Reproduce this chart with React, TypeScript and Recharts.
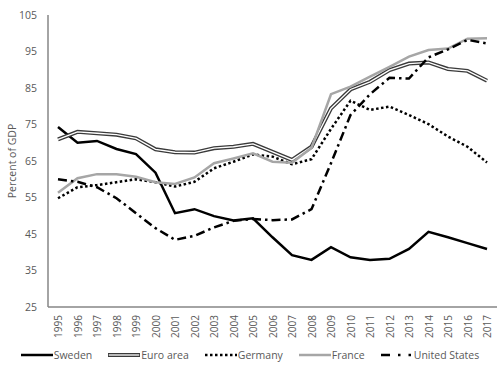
import React from "react";
import { LineChart, Line, XAxis, YAxis, Legend } from "recharts";

const years = ["1995","1996","1997","1998","1999","2000","2001","2002","2003","2004","2005","2006","2007","2008","2009","2010","2011","2012","2013","2014","2015","2016","2017"];
const sweden = [74.3,70.0,70.5,68.3,66.9,61.8,50.7,51.8,49.9,48.7,49.3,44.1,39.2,37.9,41.4,38.6,37.9,38.2,40.9,45.6,44.1,42.5,40.9];
const euroArea = [70.9,73.0,72.6,72.2,71.2,68.2,67.4,67.3,68.5,68.9,69.7,67.5,65.3,68.9,79.4,84.6,86.7,89.9,91.7,92.0,90.2,89.7,87.0];
const germany = [54.8,57.8,58.4,59.2,60.0,59.2,58.0,59.3,63.0,64.8,66.8,66.2,64.1,65.5,73.8,81.5,79.0,79.9,77.6,75.1,71.7,68.9,64.6];
const france = [56.3,60.3,61.4,61.4,60.7,59.2,58.7,60.5,64.4,65.7,67.1,64.8,64.5,68.6,83.3,85.4,88.1,90.8,93.6,95.4,95.8,98.5,98.6];
const unitedStates = [60.0,59.3,57.8,54.8,50.7,46.6,43.4,44.5,46.8,48.6,49.1,48.8,49.0,51.8,64.4,77.6,83.3,87.8,87.6,93.4,95.6,98.2,97.2];
const yTicks = [25,35,45,55,65,75,85,95,105];

const data = years.map((y, i) => ({
  year: y,
  sweden: sweden[i],
  euro: euroArea[i],
  germany: germany[i],
  france: france[i],
  us: unitedStates[i],
}));

const FONT = "'Open Sans', 'Noto Sans', sans-serif";
const TEXT = "#595959";
const AXIS = "#868686";

const XTick = (props: any) => {
  const { x, y, payload } = props;
  return (
    <text x={x} y={y} transform={`rotate(-90, ${x}, ${y})`} textAnchor="end" dominantBaseline="central" fontSize={10} fontFamily={FONT} fill={TEXT}>
      {payload.value}
    </text>
  );
};

const YTitle = (props: any) => {
  const vb = props.viewBox || { x: 0, y: 15, width: 48, height: 292 };
  const cy = vb.y + vb.height / 2;
  return (
    <text x={12} y={cy} transform={`rotate(-90, 12, ${cy})`} textAnchor="middle" dominantBaseline="central" fontSize={10.5} fontFamily={FONT} fill={TEXT}>
      Percent of GDP
    </text>
  );
};

const legendItems = [
  { name: "Sweden", kind: "sweden" },
  { name: "Euro area", kind: "euro" },
  { name: "Germany", kind: "germany" },
  { name: "France", kind: "france" },
  { name: "United States", kind: "us" },
];

const Icon = ({ kind }: { kind: string }) => {
  const w = 32;
  return (
    <svg width={w} height={8} style={{ display: "block" }}>
      {kind === "sweden" && <line x1={0} y1={4} x2={w} y2={4} stroke="#000" strokeWidth={2.5} />}
      {kind === "euro" && (
        <g>
          <line x1={0} y1={4} x2={w} y2={4} stroke="#3a3a3a" strokeWidth={4} />
          <line x1={0.8} y1={4} x2={w - 0.8} y2={4} stroke="#fff" strokeWidth={1.3} />
        </g>
      )}
      {kind === "germany" && <line x1={0} y1={4} x2={w} y2={4} stroke="#000" strokeWidth={2.5} strokeDasharray="2.5 2.5" />}
      {kind === "france" && <line x1={0} y1={4} x2={w} y2={4} stroke="#a6a6a6" strokeWidth={2.5} />}
      {kind === "us" && <line x1={0} y1={4} x2={w} y2={4} stroke="#000" strokeWidth={2.5} strokeDasharray="9 8 2.5 8 2.5 20" />}
    </svg>
  );
};

const CustomLegend = () => (
  <div style={{ display: "flex", justifyContent: "center", alignItems: "center", width: 500, height: 25, fontFamily: FONT, fontSize: 10.5, color: TEXT }}>
    {legendItems.map((it, i) => (
      <div key={it.name} style={{ display: "flex", alignItems: "center", marginLeft: i === 0 ? 0 : 16 }}>
        <Icon kind={it.kind} />
        <span style={{ marginLeft: 1, whiteSpace: "nowrap" }}>{it.name}</span>
      </div>
    ))}
  </div>
);

export default function App() {
  return (
    <div style={{ position: "absolute", left: 0, top: 0, width: 500, height: 367, background: "#fff" }}>
      <LineChart width={500} height={367} data={data} margin={{ top: 15, right: 3, left: 0, bottom: 0 }}>
        <XAxis
          dataKey="year"
          interval={0}
          height={35}
          padding={{ left: 10, right: 10 }}
          tick={<XTick />}
          tickLine={false}
          stroke={AXIS}
          strokeWidth={1.5}
        />
        <YAxis
          domain={[25, 105]}
          ticks={yTicks}
          width={48}
          tickLine={false}
          tickMargin={5}
          stroke={AXIS}
          strokeWidth={1.5}
          tick={{ fontSize: 10.5, fontFamily: FONT, fill: TEXT }}
          label={{ content: (p: any) => <YTitle {...p} /> }}
        />
        <Legend verticalAlign="bottom" content={() => <CustomLegend />} wrapperStyle={{ left: 0, width: 500, height: 25 }} />
        <Line dataKey="sweden" stroke="#000" strokeWidth={2.5} dot={false} isAnimationActive={false} />
        <Line dataKey="euro" stroke="#3a3a3a" strokeWidth={4} dot={false} isAnimationActive={false} />
        <Line dataKey="euro" stroke="#ffffff" strokeWidth={1.3} dot={false} isAnimationActive={false} />
        <Line dataKey="germany" stroke="#000" strokeWidth={2.5} strokeDasharray="2.5 2.5" dot={false} isAnimationActive={false} />
        <Line dataKey="france" stroke="#a6a6a6" strokeWidth={2.5} dot={false} isAnimationActive={false} />
        <Line dataKey="us" stroke="#000" strokeWidth={2.5} strokeDasharray="9 4 2.5 4" dot={false} isAnimationActive={false} />
      </LineChart>
    </div>
  );
}
